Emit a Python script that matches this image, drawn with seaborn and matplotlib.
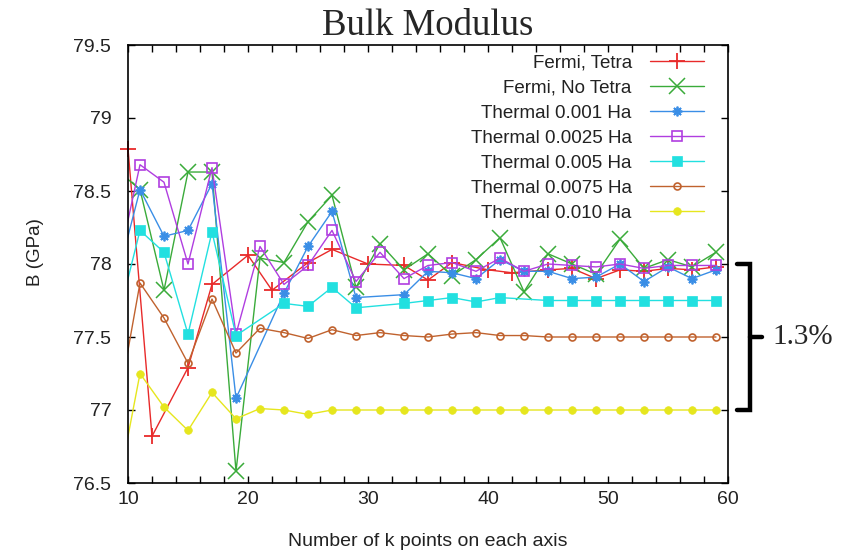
import matplotlib
matplotlib.use("Agg")
import matplotlib.pyplot as plt
import matplotlib.transforms as mtransforms
import numpy as np
import pandas as pd
import seaborn as sns

# ---- data: bulk modulus B (GPa) versus k-point grid size ----
k_fermi_tetra = [10, 12, 15, 17, 20, 22, 25, 27, 30, 33, 35, 37, 40, 42, 45, 47, 49, 51, 53, 55, 57, 59]
b_fermi_tetra = [78.79, 76.82, 77.29, 77.86, 78.06, 77.82, 78.01, 78.10, 78.00, 77.99, 77.89, 78.01,
                 77.96, 77.94, 77.96, 77.97, 77.90, 77.96, 77.95, 77.97, 77.96, 77.98]

k_fermi_notetra = [9, 11, 13, 15, 17, 19, 21, 23, 25, 27, 29, 31, 33, 35, 37, 39, 41, 43, 45, 47, 49, 51, 53, 55, 57, 59]
b_fermi_notetra = [78.65, 78.51, 77.82, 78.63, 78.63, 76.58, 78.04, 78.01, 78.29, 78.47, 77.84, 78.14, 77.96,
                   78.07, 77.92, 78.03, 78.18, 77.81, 78.07, 78.00, 77.93, 78.17, 77.97, 78.03, 77.98, 78.08]

k_t0010 = [9, 11, 13, 15, 17, 19, 23, 25, 27, 29, 33, 35, 37, 39, 41, 43, 45, 47, 49, 51, 53, 55, 57, 59]
b_t0010 = [77.87, 78.51, 78.19, 78.23, 78.55, 77.08, 77.80, 78.12, 78.36, 77.77, 77.79, 77.95,
           77.94, 77.90, 78.03, 77.95, 77.95, 77.90, 77.91, 78.00, 77.88, 77.98, 77.90, 77.96]

k_t0025 = [9, 11, 13, 15, 17, 19, 21, 23, 25, 27, 29, 31, 33, 35, 37, 39, 41, 43, 45, 47, 49, 51, 53, 55, 57, 59]
b_t0025 = [77.92, 78.68, 78.56, 78.00, 78.66, 77.52, 78.12, 77.86, 77.99, 78.23, 77.88, 78.08, 77.90,
           77.99, 78.01, 77.95, 78.04, 77.95, 78.00, 77.99, 77.98, 78.00, 77.97, 77.99, 77.99, 77.99]

k_t0050 = [9, 11, 13, 15, 17, 19, 23, 25, 27, 29, 33, 35, 37, 39, 41, 45, 47, 49, 51, 53, 55, 57, 59]
b_t0050 = [77.57, 78.23, 78.08, 77.52, 78.22, 77.51, 77.73, 77.71, 77.84, 77.70, 77.73, 77.75,
           77.77, 77.74, 77.77, 77.75, 77.75, 77.75, 77.75, 77.75, 77.75, 77.75, 77.75]

k_t0075 = [9, 11, 13, 15, 17, 19, 21, 23, 25, 27, 29, 31, 33, 35, 37, 39, 41, 43, 45, 47, 49, 51, 53, 55, 57, 59]
b_t0075 = [76.95, 77.87, 77.63, 77.32, 77.76, 77.39, 77.56, 77.53, 77.49, 77.55, 77.51, 77.53, 77.51,
           77.50, 77.52, 77.53, 77.51, 77.51, 77.50, 77.50, 77.50, 77.50, 77.50, 77.50, 77.50, 77.50]

k_t0100 = [9, 11, 13, 15, 17, 19, 21, 23, 25, 27, 29, 31, 33, 35, 37, 39, 41, 43, 45, 47, 49, 51, 53, 55, 57, 59]
b_t0100 = [76.39, 77.25, 77.02, 76.86, 77.12, 76.94, 77.01, 77.00, 76.97, 77.00, 77.00, 77.00, 77.00,
           77.00, 77.00, 77.00, 77.00, 77.00, 77.00, 77.00, 77.00, 77.00, 77.00, 77.00, 77.00, 77.00]

series_labels = ["Fermi, Tetra", "Fermi, No Tetra", "Thermal 0.001 Ha", "Thermal 0.0025 Ha",
                 "Thermal 0.005 Ha", "Thermal 0.0075 Ha", "Thermal 0.010 Ha"]
series_k = [k_fermi_tetra, k_fermi_notetra, k_t0010, k_t0025, k_t0050, k_t0075, k_t0100]
series_b = [b_fermi_tetra, b_fermi_notetra, b_t0010, b_t0025, b_t0050, b_t0075, b_t0100]

x_ticks = [10, 20, 30, 40, 50, 60]
y_ticks = [76.5, 77, 77.5, 78, 78.5, 79, 79.5]

# ---- styling for each series ----
styles = [
    dict(color="#e82a2a", marker="+", markersize=12, markeredgewidth=1.3),
    dict(color="#3aab3a", marker="x", markersize=11, markeredgewidth=1.1),
    dict(color="#3a8ee6", marker=(8, 2, 0), markersize=7, markeredgewidth=1.3),
    dict(color="#b03ee0", marker="s", markersize=7, markeredgewidth=1.2, fillstyle="none"),
    dict(color="#22e0e0", marker="s", markersize=7, markeredgewidth=0.5),
    dict(color="#c0622e", marker="o", markersize=5, markeredgewidth=1.2, fillstyle="none"),
    dict(color="#e6e61e", marker="o", markersize=5.5, markeredgewidth=0.5),
]

sns.set_style("ticks")
plt.rcParams["font.family"] = ["Liberation Sans", "DejaVu Sans"]

fig = plt.figure(figsize=(8.44, 5.52), dpi=100)
ax = fig.add_axes([128 / 844, 1 - 483 / 552, 600 / 844, 438 / 552])

for i, (lab, ks, bs, st) in enumerate(zip(series_labels, series_k, series_b, styles)):
    df = pd.DataFrame({"k": ks, "B": bs})
    sns.lineplot(data=df, x="k", y="B", ax=ax, label=lab, linewidth=1.0,
                 markeredgecolor=st["color"], **st)
    if i == 0:
        # the first tetrahedron point sits on the left axis; keep its marker whole
        ax.lines[-1].set_clip_on(False)

ax.set_xlim(10, 60)
ax.set_ylim(76.5, 79.5)
ax.set_xticks(x_ticks)
ax.set_xticks(np.arange(10, 61, 2), minor=True)
ax.set_yticks(y_ticks)
ax.set_yticklabels([f"{v:g}" for v in y_ticks])
ax.tick_params(which="both", direction="in", top=True, right=True, length=5, width=1,
               colors="black", labelcolor="#222222", labelsize=14)
ax.tick_params(axis="y", pad=12)
ax.tick_params(axis="x", pad=6)
for sp in ax.spines.values():
    sp.set_linewidth(1.2)
    sp.set_color("black")

ax.set_xlabel("Number of k points on each axis", fontsize=14, color="#222222")
ax.set_ylabel("B (GPa)", fontsize=13.5, color="#222222")
ax.xaxis.set_label_coords(0.5, -0.115)
ax.yaxis.set_label_coords(-0.14, 0.527)

ax.set_title("Bulk Modulus", fontsize=26.5, family="Liberation Serif", pad=7)

leg = ax.legend(loc="upper right", bbox_to_anchor=(0.96, 0.978), frameon=False,
                markerfirst=False, fontsize=13.5, handlelength=2.9, handletextpad=0.95,
                labelspacing=0.42, borderpad=0, borderaxespad=0)
for t in leg.get_texts():
    t.set_color("#222222")

# bracket spanning 77.0 .. 78.0 with the relative spread
tr = mtransforms.blended_transform_factory(fig.transFigure, ax.transData)
bx0, bx1, bx2 = 737 / 844, 750 / 844, 762 / 844
ax.plot([bx0, bx1, bx1, bx0], [78.0, 78.0, 77.0, 77.0], transform=tr, color="black",
        linewidth=3.2, clip_on=False, solid_joinstyle="miter")
ax.plot([bx1, bx2], [77.5, 77.5], transform=tr, color="black", linewidth=3.2, clip_on=False)
ax.text(772 / 844, 77.5, "1.3%", transform=tr, fontsize=21, family="Liberation Serif",
        va="center", ha="left")

fig.savefig("out.png", dpi=100)
